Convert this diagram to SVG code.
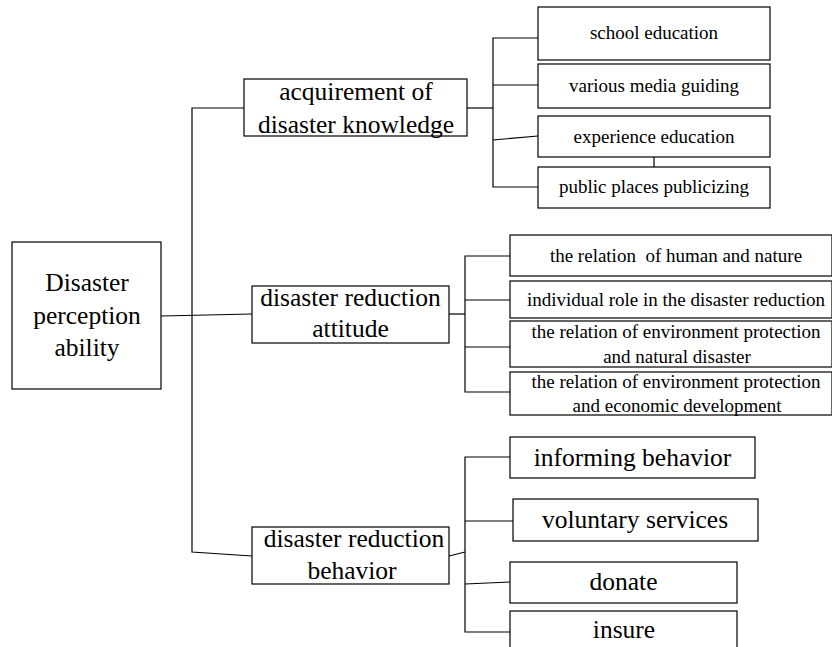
<svg xmlns="http://www.w3.org/2000/svg" width="832" height="647" viewBox="0 0 832 647" font-family="Liberation Serif, Times New Roman, serif">
<style>
rect{fill:#fff;stroke:#000;stroke-width:1.2}
.c line,.c polyline{stroke:#000;stroke-width:1.2;fill:none}
text{fill:#000;text-anchor:middle}
.b{font-size:25.5px}
.s{font-size:19px}
</style>
<rect x="0" y="0" width="832" height="647" style="stroke:none"/>
<g class="c" id="connectors">
<line x1="161" y1="316" x2="252" y2="314"/>
<polyline points="244,108 192,108 192,552 252,556"/>
<line x1="467" y1="108" x2="493" y2="108"/>
<polyline points="538,38 493,38 493,187 538,187"/>
<line x1="493" y1="85" x2="538" y2="85"/>
<line x1="493" y1="140" x2="538" y2="136"/>
<line x1="654" y1="157" x2="654" y2="167"/>
<line x1="449" y1="314" x2="465" y2="314"/>
<polyline points="510,256 465,256 465,392 510,392"/>
<line x1="465" y1="300" x2="510" y2="300"/>
<line x1="465" y1="347" x2="510" y2="347"/>
<line x1="449" y1="556" x2="465" y2="552"/>
<polyline points="510,457 465,457 465,632 510,632"/>
<line x1="465" y1="521" x2="513" y2="521"/>
<line x1="465" y1="584" x2="510" y2="582"/>
</g>
<g id="root"><rect x="12" y="242" width="149" height="147"/>
<text class="b" x="87" y="291" font-family="Liberation Serif, serif">Disaster</text>
<text class="b" x="87" y="324">perception</text>
<text class="b" x="87" y="356">ability</text></g>
<g id="acq"><rect x="244" y="79" width="223" height="57"/>
<text class="b" x="356" y="100">acquirement of</text>
<text class="b" x="356" y="133">disaster knowledge</text></g>
<g id="att"><rect x="252" y="286" width="197" height="57"/>
<text class="b" x="350.5" y="306">disaster reduction</text>
<text class="b" x="350.5" y="337">attitude</text></g>
<g id="beh"><rect x="252" y="527" width="197" height="57"/>
<text class="b" x="354" y="547">disaster reduction</text>
<text class="b" x="352" y="579">behavior</text></g>
<g id="school"><rect x="538" y="7" width="232" height="53"/><text class="s" x="654" y="39">school education</text></g>
<g id="media"><rect x="538" y="64" width="232" height="44"/><text class="s" x="654" y="92">various media guiding</text></g>
<g id="exp"><rect x="538" y="116" width="232" height="41"/><text class="s" x="654" y="143">experience education</text></g>
<g id="public"><rect x="538" y="167" width="232" height="41"/><text class="s" x="654" y="193">public places publicizing</text></g>
<g id="rel1"><rect x="510" y="235" width="322" height="41"/><text class="s" x="676" y="262" xml:space="preserve">the relation  of human and nature</text></g>
<g id="role"><rect x="510" y="281" width="322" height="37"/><text class="s" x="676" y="306">individual role in the disaster reduction</text></g>
<g id="rel2"><rect x="510" y="321" width="322" height="46"/><text class="s" x="676" y="338">the relation of environment protection</text><text class="s" x="677" y="363">and natural disaster</text></g>
<g id="rel3"><rect x="510" y="372" width="322" height="43"/><text class="s" x="676" y="388">the relation of environment protection</text><text class="s" x="677" y="412">and economic development</text></g>
<g id="inform"><rect x="510" y="437" width="245" height="41"/><text class="b" x="632.5" y="466">informing behavior</text></g>
<g id="vol"><rect x="513" y="499" width="245" height="42"/><text class="b" x="635" y="528">voluntary services</text></g>
<g id="donate"><rect x="510" y="562" width="227" height="41"/><text class="b" x="623.5" y="590">donate</text></g>
<g id="insure"><rect x="510" y="611" width="227" height="50"/><text class="b" x="624" y="638">insure</text></g>
</svg>
